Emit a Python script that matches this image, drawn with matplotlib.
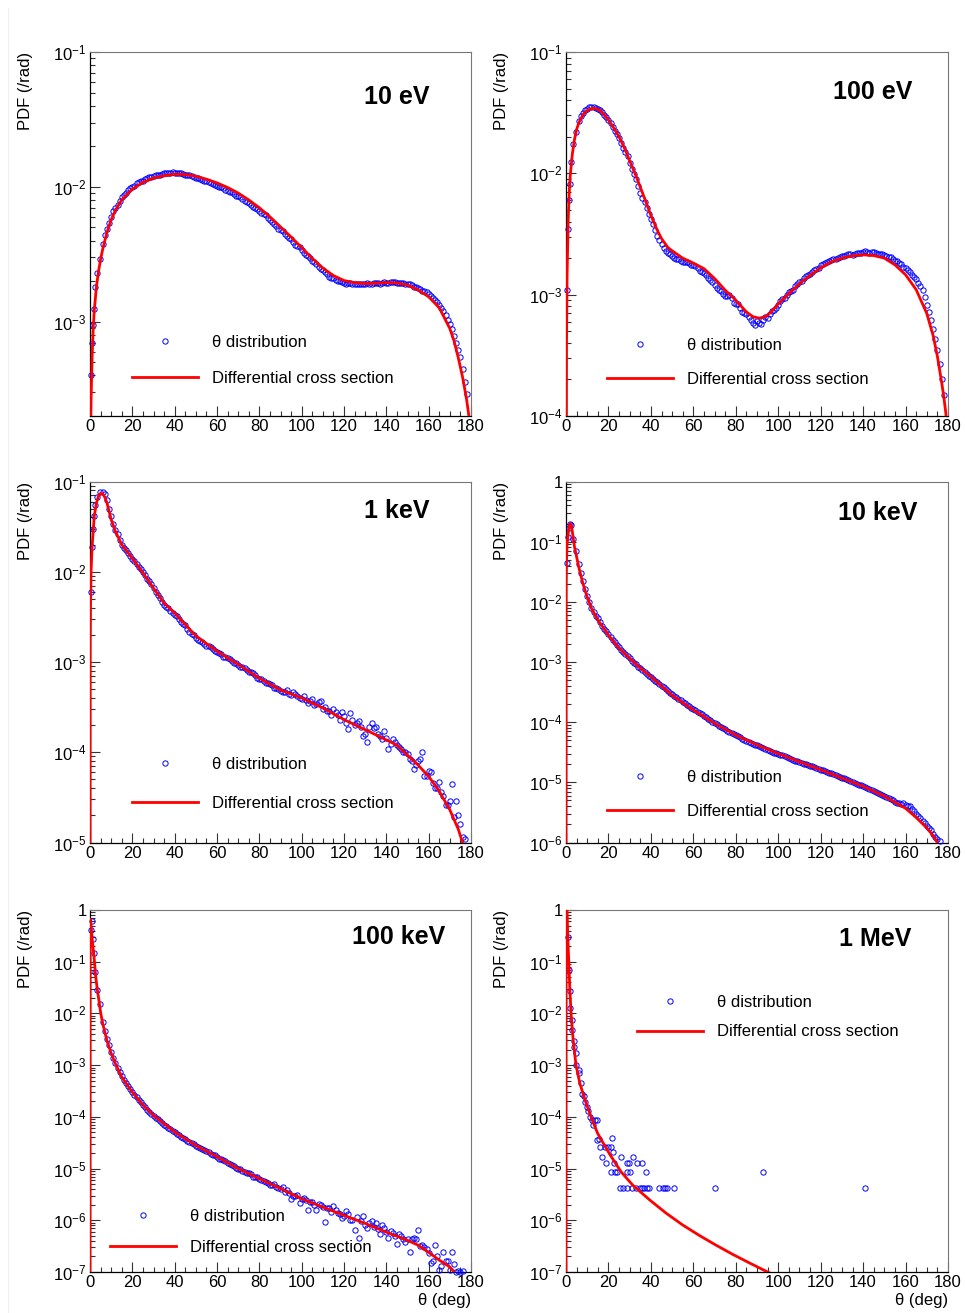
import matplotlib
matplotlib.use("Agg")
import matplotlib.pyplot as plt
import numpy as np
from matplotlib.lines import Line2D
from matplotlib.ticker import FixedLocator, FuncFormatter, MultipleLocator, NullFormatter

plt.rcParams["font.family"] = ["Liberation Sans", "DejaVu Sans"]
plt.rcParams["mathtext.fontset"] = "custom"
plt.rcParams["mathtext.rm"] = "Liberation Sans"
plt.rcParams["mathtext.it"] = "Liberation Sans:italic"
plt.rcParams["mathtext.bf"] = "Liberation Sans:bold"

# histogram bin centres (deg): a few fine bins near 0, then even and odd degrees
THETA_FINE = [0.25, 0.75, 1.25, 1.75, 2.5, 3.5, 4.5]
THETA_EVEN = np.arange(6, 179, 2)
THETA_ODD = np.arange(7, 178, 2)

# ---- 10 eV ----
PDF_10EV_FINE = [4.0e-4, 7.0e-4, 9.5e-4, 1.25e-3, 1.8e-3, 2.3e-3, 2.9e-3]
PDF_10EV = [
    3.75e-3, 4.9e-3, 6.0e-3, 7.0e-3, 7.9e-3, 8.7e-3, 9.4e-3, 1.0e-2, 1.06e-2, 1.1e-2,
    1.14e-2, 1.18e-2, 1.21e-2, 1.23e-2, 1.25e-2, 1.26e-2, 1.27e-2, 1.27e-2, 1.265e-2, 1.25e-2,
    1.23e-2, 1.2e-2, 1.17e-2, 1.14e-2, 1.11e-2, 1.08e-2, 1.05e-2, 1.02e-2, 9.9e-3, 9.55e-3,
    9.2e-3, 8.85e-3, 8.5e-3, 8.1e-3, 7.75e-3, 7.4e-3, 7.0e-3, 6.65e-3, 6.3e-3, 5.9e-3,
    5.5e-3, 5.15e-3, 4.8e-3, 4.5e-3, 4.2e-3, 3.9e-3, 3.65e-3, 3.4e-3, 3.15e-3, 2.95e-3,
    2.75e-3, 2.55e-3, 2.4e-3, 2.25e-3, 2.12e-3, 2.04e-3, 1.99e-3, 1.95e-3, 1.93e-3, 1.92e-3,
    1.91e-3, 1.91e-3, 1.91e-3, 1.92e-3, 1.93e-3, 1.93e-3, 1.94e-3, 1.95e-3, 1.96e-3, 1.96e-3,
    1.95e-3, 1.93e-3, 1.9e-3, 1.86e-3, 1.81e-3, 1.75e-3, 1.68e-3, 1.6e-3, 1.5e-3, 1.39e-3,
    1.26e-3, 1.12e-3, 9.6e-4, 7.9e-4, 6.2e-4, 4.5e-4, 2.9e-4,
]
PDF_10EV_ODD = [
    4.4e-3, 5.4e-3, 6.6e-3, 7.4e-3, 8.4e-3, 9.0e-3, 9.8e-3, 1.02e-2, 1.09e-2, 1.11e-2,
    1.17e-2, 1.19e-2, 1.23e-2, 1.23e-2, 1.265e-2, 1.26e-2, 1.28e-2, 1.26e-2, 1.27e-2, 1.23e-2,
    1.22e-2, 1.18e-2, 1.16e-2, 1.12e-2, 1.1e-2, 1.06e-2, 1.04e-2, 1.0e-2, 9.8e-3, 9.3e-3,
    9.1e-3, 8.6e-3, 8.4e-3, 7.85e-3, 7.65e-3, 7.15e-3, 6.9e-3, 6.4e-3, 6.15e-3, 5.65e-3,
    5.35e-3, 4.9e-3, 4.7e-3, 4.3e-3, 4.1e-3, 3.72e-3, 3.56e-3, 3.22e-3, 3.08e-3, 2.82e-3,
    2.68e-3, 2.45e-3, 2.34e-3, 2.16e-3, 2.1e-3, 1.99e-3, 1.98e-3, 1.92e-3, 1.94e-3, 1.9e-3,
    1.92e-3, 1.89e-3, 1.93e-3, 1.91e-3, 1.95e-3, 1.92e-3, 1.96e-3, 1.94e-3, 1.98e-3, 1.94e-3,
    1.95e-3, 1.9e-3, 1.89e-3, 1.82e-3, 1.79e-3, 1.7e-3, 1.65e-3, 1.54e-3, 1.46e-3, 1.32e-3,
    1.2e-3, 1.03e-3, 8.9e-4, 6.9e-4, 5.5e-4, 3.6e-4,
]
XS_THETA_10EV = [0, 0.25, 0.5, 1, 1.5, 2, 3, 4, 5, 6, 8, 10, 12, 15, 20, 25, 30, 35, 40, 45,
                 50, 55, 60, 65, 70, 75, 80, 85, 90, 95, 100, 105, 110, 115, 120, 125, 130,
                 135, 140, 145, 150, 155, 160, 165, 170, 172, 174, 176, 177, 178, 179, 180]
XS_10EV = [1e-6, 1.2e-4, 2.6e-4, 5.5e-4, 8.8e-4, 1.2e-3, 1.8e-3, 2.35e-3, 2.9e-3, 3.45e-3,
           4.6e-3, 5.7e-3, 6.7e-3, 8.0e-3, 9.6e-3, 1.08e-2, 1.16e-2, 1.21e-2, 1.24e-2, 1.235e-2,
           1.2e-2, 1.14e-2, 1.07e-2, 9.9e-3, 9.0e-3, 8.0e-3, 7.0e-3, 6.0e-3, 5.05e-3, 4.25e-3,
           3.55e-3, 2.95e-3, 2.5e-3, 2.2e-3, 2.02e-3, 1.95e-3, 1.92e-3, 1.93e-3, 1.95e-3, 1.94e-3,
           1.87e-3, 1.72e-3, 1.53e-3, 1.27e-3, 8.9e-4, 7.2e-4, 5.4e-4, 3.9e-4, 3.2e-4, 2.6e-4,
           2.0e-4, 1e-4]

# ---- 100 eV ----
PDF_100EV_FINE = [1.1e-3, 3.5e-3, 6.0e-3, 8.2e-3, 1.25e-2, 1.75e-2, 2.2e-2]
PDF_100EV = [
    2.7e-2, 3.15e-2, 3.4e-2, 3.5e-2, 3.48e-2, 3.3e-2, 3.05e-2, 2.75e-2, 2.4e-2, 2.1e-2,
    1.78e-2, 1.5e-2, 1.22e-2, 9.8e-3, 7.8e-3, 6.3e-3, 5.2e-3, 4.2e-3, 3.4e-3, 2.8e-3,
    2.42e-3, 2.22e-3, 2.08e-3, 1.98e-3, 1.9e-3, 1.86e-3, 1.82e-3, 1.74e-3, 1.65e-3, 1.55e-3,
    1.45e-3, 1.32e-3, 1.2e-3, 1.1e-3, 1.02e-3, 9.8e-4, 9.3e-4, 8.4e-4, 7.7e-4, 7.1e-4,
    6.6e-4, 5.8e-4, 6.1e-4, 5.7e-4, 6.5e-4, 6.9e-4, 7.5e-4, 8.2e-4, 9.2e-4, 1.0e-3,
    1.07e-3, 1.17e-3, 1.27e-3, 1.37e-3, 1.46e-3, 1.55e-3, 1.64e-3, 1.74e-3, 1.83e-3, 1.9e-3,
    1.95e-3, 2.0e-3, 2.07e-3, 2.12e-3, 2.15e-3, 2.18e-3, 2.2e-3, 2.24e-3, 2.25e-3, 2.23e-3,
    2.21e-3, 2.17e-3, 2.13e-3, 2.06e-3, 1.97e-3, 1.88e-3, 1.78e-3, 1.66e-3, 1.54e-3, 1.4e-3,
    1.25e-3, 1.1e-3, 8.2e-4, 6.2e-4, 4.3e-4, 2.7e-4, 1.5e-4,
]
PDF_100EV_ODD = [
    2.95e-2, 3.3e-2, 3.5e-2, 3.55e-2, 3.4e-2, 3.2e-2, 2.9e-2, 2.6e-2, 2.22e-2, 1.95e-2,
    1.62e-2, 1.38e-2, 1.08e-2, 8.9e-3, 6.9e-3, 5.8e-3, 4.6e-3, 3.8e-3, 3.05e-3, 2.62e-3,
    2.3e-3, 2.16e-3, 2.0e-3, 1.96e-3, 1.86e-3, 1.85e-3, 1.76e-3, 1.71e-3, 1.58e-3, 1.52e-3,
    1.38e-3, 1.27e-3, 1.13e-3, 1.07e-3, 9.7e-4, 9.9e-4, 8.6e-4, 8.3e-4, 7.2e-4, 6.9e-4,
    6.2e-4, 5.6e-4, 5.8e-4, 6.2e-4, 6.4e-4, 7.3e-4, 7.7e-4, 8.9e-4, 9.4e-4, 1.05e-3,
    1.1e-3, 1.23e-3, 1.3e-3, 1.43e-3, 1.49e-3, 1.61e-3, 1.67e-3, 1.8e-3, 1.85e-3, 1.94e-3,
    1.96e-3, 2.05e-3, 2.08e-3, 2.16e-3, 2.14e-3, 2.22e-3, 2.19e-3, 2.27e-3, 2.22e-3, 2.24e-3,
    2.18e-3, 2.16e-3, 2.08e-3, 2.03e-3, 1.91e-3, 1.84e-3, 1.7e-3, 1.61e-3, 1.46e-3, 1.34e-3,
    1.17e-3, 9.6e-4, 7.2e-4, 5.2e-4, 3.5e-4, 2.0e-4,
]
XS_THETA_100EV = [0, 0.25, 0.5, 1, 1.5, 2, 3, 4, 5, 6, 8, 10, 12, 14, 16, 18, 20, 22, 25, 28,
                  30, 33, 35, 38, 40, 43, 45, 48, 50, 55, 60, 65, 70, 75, 80, 85, 88, 91, 94,
                  97, 100, 105, 110, 115, 120, 125, 130, 135, 140, 145, 150, 155, 160, 165,
                  170, 173, 175, 177, 178, 179, 180]
XS_100EV = [1e-6, 4e-4, 1.4e-3, 4e-3, 6.8e-3, 9.6e-3, 1.45e-2, 1.9e-2, 2.3e-2, 2.6e-2,
            3.05e-2, 3.3e-2, 3.42e-2, 3.42e-2, 3.3e-2, 3.05e-2, 2.75e-2, 2.45e-2, 2.0e-2, 1.55e-2,
            1.27e-2, 9.5e-3, 7.7e-3, 5.6e-3, 4.5e-3, 3.4e-3, 2.9e-3, 2.45e-3, 2.3e-3, 2.0e-3,
            1.82e-3, 1.64e-3, 1.36e-3, 1.09e-3, 9.0e-4, 7.2e-4, 6.6e-4, 6.4e-4, 6.6e-4,
            7.3e-4, 8.4e-4, 1.02e-3, 1.23e-3, 1.44e-3, 1.66e-3, 1.86e-3, 2.0e-3, 2.09e-3, 2.13e-3,
            2.1e-3, 2.0e-3, 1.76e-3, 1.46e-3, 1.1e-3, 7.0e-4, 4.6e-4, 3.1e-4, 1.9e-4, 1.45e-4,
            1.05e-4, 5e-5]

# ---- 1 keV ----
PDF_1KEV_FINE = [6.0e-3, 1.9e-2, 3.0e-2, 4.1e-2, 5.5e-2, 6.8e-2, 7.6e-2]
PDF_1KEV = [
    7.7e-2, 6.3e-2, 4.1e-2, 2.9e-2, 2.25e-2, 1.85e-2, 1.6e-2, 1.4e-2, 1.22e-2, 1.07e-2,
    9.2e-3, 7.9e-3, 6.6e-3, 5.5e-3, 4.6e-3, 4.1e-3, 3.7e-3, 3.3e-3, 3.0e-3, 2.65e-3,
    2.35e-3, 2.05e-3, 1.85e-3, 1.72e-3, 1.6e-3, 1.5e-3, 1.38e-3, 1.3e-3, 1.22e-3, 1.13e-3,
    1.08e-3, 9.8e-4, 9.3e-4, 8.7e-4, 8.2e-4, 7.8e-4, 7.1e-4, 6.5e-4, 6.2e-4, 5.8e-4,
    5.5e-4, 5.1e-4, 4.8e-4, 4.7e-4, 4.4e-4, 4.6e-4, 4.2e-4, 3.9e-4, 3.8e-4, 3.7e-4,
    3.3e-4, 3.6e-4, 3.0e-4, 2.9e-4, 2.6e-4, 2.8e-4, 2.3e-4, 2.5e-4, 1.8e-4, 2.3e-4,
    2.1e-4, 1.9e-4, 1.6e-4, 1.9e-4, 1.85e-4, 1.6e-4, 1.4e-4, 1.45e-4, 1.25e-4, 1.3e-4,
    1.15e-4, 1.0e-4, 9.5e-5, 8.0e-5, 7.3e-5, 8.5e-5, 5.5e-5, 6.2e-5, 4.6e-5, 4.0e-5,
    3.6e-5, 2.6e-5, 2.9e-5, 1.9e-5, 2.0e-5, 1.15e-5, 8e-6,
]
PDF_1KEV_ODD = [  # 7 .. 99 deg
    7.2e-2, 5.0e-2, 3.4e-2, 2.6e-2, 2.0e-2, 1.75e-2, 1.48e-2, 1.33e-2, 1.13e-2, 1.0e-2,
    8.4e-3, 7.3e-3, 5.9e-3, 5.1e-3, 4.3e-3, 3.95e-3, 3.45e-3, 3.2e-3, 2.8e-3, 2.55e-3,
    2.15e-3, 1.98e-3, 1.76e-3, 1.68e-3, 1.52e-3, 1.47e-3, 1.32e-3, 1.27e-3, 1.15e-3, 1.12e-3,
    1.02e-3, 9.7e-4, 8.8e-4, 8.6e-4, 7.7e-4, 7.6e-4, 6.6e-4, 6.5e-4, 5.8e-4, 5.7e-4,
    5.1e-4, 5.0e-4, 4.6e-4, 4.9e-4, 4.3e-4, 4.4e-4, 4.0e-4,
]
PDF_1KEV_ODD_TAIL = [  # 101 .. 177 deg
    4.2e-4, 3.5e-4, 3.9e-4, 3.4e-4, 3.7e-4, 3.2e-4, 2.9e-4, 3.0e-4, 2.6e-4, 2.8e-4,
    2.1e-4, 2.7e-4, 2.0e-4, 2.2e-4, 1.5e-4, 1.3e-4, 2.1e-4, 1.9e-4, 1.5e-4, 1.7e-4,
    1.1e-4, 1.4e-4, 1.2e-4, 1.1e-4, 1.0e-4, 8.4e-5, 6.5e-5, 8.0e-5, 1.0e-4, 5.4e-5,
    6.0e-5, 4.0e-5, 4.7e-5, 3.3e-5, 2.6e-5, 4.4e-5, 2.9e-5, 1.6e-5, 1.1e-5,
]
XS_THETA_1KEV = [0, 0.1, 0.25, 0.5, 1, 2, 3, 4, 5, 6, 7, 8, 9, 10, 12, 15, 20, 25, 30, 35,
                 40, 45, 50, 55, 60, 65, 70, 80, 90, 100, 110, 120, 130, 140, 145, 150, 155,
                 160, 165, 170, 174, 176, 178]
XS_1KEV = [1e-8, 1.5e-3, 4e-3, 1.0e-2, 1.9e-2, 4.1e-2, 5.75e-2, 6.9e-2, 7.4e-2, 7.3e-2,
           6.7e-2, 5.8e-2, 4.7e-2, 3.8e-2, 2.8e-2, 2.0e-2, 1.41e-2, 9.7e-3, 6.6e-3, 4.5e-3,
           3.5e-3, 2.6e-3, 1.95e-3, 1.6e-3, 1.32e-3, 1.11e-3, 9.4e-4, 6.6e-4, 4.9e-4, 4.0e-4,
           3.1e-4, 2.3e-4, 1.78e-4, 1.37e-4, 1.2e-4, 9.3e-5, 7.2e-5, 5.4e-5, 3.7e-5, 2.3e-5,
           1.4e-5, 1.0e-5, 5e-6]

# ---- 10 keV ----
PDF_10KEV_FINE = [4.5e-2, 0.12, 0.17, 0.2, 0.19, 0.11, 7.0e-2]
PDF_10KEV = [
    4.3e-2, 2.2e-2, 1.25e-2, 8.0e-3, 5.9e-3, 4.6e-3, 3.6e-3, 2.9e-3, 2.35e-3, 1.95e-3,
    1.6e-3, 1.35e-3, 1.15e-3, 9.8e-4, 8.4e-4, 7.3e-4, 6.3e-4, 5.6e-4, 4.9e-4, 4.3e-4,
    3.8e-4, 3.3e-4, 2.9e-4, 2.6e-4, 2.3e-4, 2.05e-4, 1.85e-4, 1.65e-4, 1.5e-4, 1.35e-4,
    1.2e-4, 1.08e-4, 9.7e-5, 8.8e-5, 8.0e-5, 7.2e-5, 6.7e-5, 6.1e-5, 5.6e-5, 5.1e-5,
    4.7e-5, 4.4e-5, 4.1e-5, 3.8e-5, 3.6e-5, 3.3e-5, 3.1e-5, 2.95e-5, 2.8e-5, 2.6e-5,
    2.45e-5, 2.3e-5, 2.2e-5, 2.05e-5, 1.95e-5, 1.85e-5, 1.75e-5, 1.63e-5, 1.55e-5, 1.45e-5,
    1.37e-5, 1.28e-5, 1.2e-5, 1.12e-5, 1.05e-5, 9.8e-6, 9.2e-6, 8.7e-6, 8.1e-6, 7.5e-6,
    7.0e-6, 6.4e-6, 6.0e-6, 5.5e-6, 5.0e-6, 4.6e-6, 4.3e-6, 4.2e-6, 4.0e-6, 3.3e-6,
    2.8e-6, 2.3e-6, 1.9e-6, 1.6e-6, 1.25e-6, 1.05e-6, 9e-7,
]
PDF_10KEV_ODD = [
    3.0e-2, 1.65e-2, 1.0e-2, 6.8e-3, 5.3e-3, 4.0e-3, 3.25e-3, 2.6e-3, 2.12e-3, 1.78e-3,
    1.46e-3, 1.26e-3, 1.05e-3, 9.1e-4, 7.8e-4, 6.8e-4, 5.9e-4, 5.2e-4, 4.6e-4, 4.0e-4,
    3.55e-4, 3.1e-4, 2.75e-4, 2.45e-4, 2.15e-4, 1.95e-4, 1.74e-4, 1.58e-4, 1.42e-4, 1.27e-4,
    1.14e-4, 1.02e-4, 9.2e-5, 8.4e-5, 7.6e-5, 6.9e-5, 6.4e-5, 5.8e-5, 5.35e-5, 4.9e-5,
    4.55e-5, 4.25e-5, 3.95e-5, 3.7e-5, 3.45e-5, 3.2e-5, 3.05e-5, 2.85e-5, 2.7e-5, 2.52e-5,
    2.38e-5, 2.25e-5, 2.12e-5, 2.0e-5, 1.9e-5, 1.8e-5, 1.69e-5, 1.59e-5, 1.5e-5, 1.41e-5,
    1.32e-5, 1.24e-5, 1.16e-5, 1.08e-5, 1.02e-5, 9.5e-6, 9.0e-6, 8.4e-6, 7.8e-6, 7.2e-6,
    6.7e-6, 6.2e-6, 5.7e-6, 5.3e-6, 4.8e-6, 4.5e-6, 4.6e-6, 4.1e-6, 3.6e-6, 3.0e-6,
    2.55e-6, 2.1e-6, 1.75e-6, 1.4e-6, 1.15e-6, 9.5e-7,
]
XS_THETA_10KEV = [0, 0.1, 0.25, 0.5, 1, 1.5, 2, 2.5, 3, 4, 5, 6, 8, 10, 12, 15, 20, 25, 30,
                  35, 40, 50, 60, 70, 80, 90, 100, 110, 120, 130, 140, 150, 160, 165, 170,
                  173, 175, 177]
XS_10KEV = [1e-8, 2e-2, 5e-2, 9e-2, 0.135, 0.18, 0.2, 0.19, 0.145, 8.2e-2, 5.6e-2, 3.8e-2,
            2.0e-2, 1.2e-2, 7.8e-3, 5.0e-3, 2.8e-3, 1.7e-3, 1.15e-3, 7.9e-4, 5.7e-4, 2.8e-4,
            1.6e-4, 9.6e-5, 6.1e-5, 4.2e-5, 3.0e-5, 2.2e-5, 1.62e-5, 1.18e-5, 8.6e-6, 5.9e-6,
            3.7e-6, 2.6e-6, 1.75e-6, 1.3e-6, 1.0e-6, 6e-7]

# ---- 100 keV ----
PDF_100KEV_FINE = [0.41, 0.6, 0.27, 0.15, 6.2e-2, 2.8e-2, 1.5e-2]
PDF_100KEV = [
    6.8e-3, 3.2e-3, 1.8e-3, 1.1e-3, 7.5e-4, 5.2e-4, 3.9e-4, 3.0e-4, 2.4e-4, 1.9e-4,
    1.55e-4, 1.25e-4, 1.05e-4, 9.0e-5, 7.6e-5, 6.6e-5, 5.7e-5, 5.0e-5, 4.4e-5, 3.9e-5,
    3.4e-5, 3.1e-5, 2.75e-5, 2.5e-5, 2.3e-5, 2.1e-5, 1.85e-5, 1.7e-5, 1.5e-5, 1.4e-5,
    1.2e-5, 1.1e-5, 1.0e-5, 9.0e-6, 8.3e-6, 7.8e-6, 6.8e-6, 6.4e-6, 5.8e-6, 5.2e-6,
    4.8e-6, 4.5e-6, 4.0e-6, 3.6e-6, 3.3e-6, 3.0e-6, 3.1e-6, 2.6e-6, 2.5e-6, 2.3e-6,
    2.0e-6, 2.1e-6, 1.8e-6, 1.7e-6, 1.45e-6, 1.6e-6, 1.3e-6, 1.2e-6, 1.3e-6, 1.0e-6,
    1.15e-6, 9.5e-7, 8.0e-7, 9.0e-7, 7.5e-7, 6.8e-7, 8.0e-7, 6.0e-7, 6.3e-7, 5.0e-7,
    5.5e-7, 4.4e-7, 4.3e-7, 4.3e-7, 4.4e-7, 3.2e-7, 3.0e-7, 2.3e-7, 1.6e-7, 2.0e-7,
    1.3e-7, 1.6e-7, 1.1e-7, 1.4e-7, 1.05e-7, 1.05e-7, 8e-8,
]
PDF_100KEV_ODD = [  # 7 .. 89 deg
    4.5e-3, 2.4e-3, 1.4e-3, 9.0e-4, 6.2e-4, 4.5e-4, 3.4e-4, 2.7e-4, 2.1e-4, 1.72e-4,
    1.38e-4, 1.15e-4, 9.6e-5, 8.3e-5, 7.0e-5, 6.2e-5, 5.3e-5, 4.7e-5, 4.1e-5, 3.7e-5,
    3.2e-5, 2.95e-5, 2.6e-5, 2.4e-5, 2.2e-5, 1.95e-5, 1.8e-5, 1.55e-5, 1.48e-5, 1.28e-5,
    1.18e-5, 1.02e-5, 9.6e-6, 8.5e-6, 8.2e-6, 7.0e-6, 6.8e-6, 5.9e-6, 5.6e-6, 4.9e-6,
    5.1e-6, 4.2e-6,
]
PDF_100KEV_ODD_TAIL = [  # 91 .. 175 deg
    4.5e-6, 3.9e-6, 2.6e-6, 2.9e-6, 2.2e-6, 2.7e-6, 1.6e-6, 2.3e-6, 1.6e-6, 2.0e-6,
    9.3e-7, 1.7e-6, 1.9e-6, 1.4e-6, 1.1e-6, 1.5e-6, 1.0e-6, 6.5e-7, 4.6e-7, 1.2e-6,
    7.0e-7, 9.5e-7, 8.7e-7, 5.5e-7, 7.0e-7, 4.5e-7, 5.8e-7, 3.5e-7, 5.0e-7, 3.8e-7,
    2.4e-7, 4.5e-7, 6.5e-7, 3.3e-7, 2.8e-7, 1.5e-7, 3.3e-7, 1.1e-7, 2.4e-7, 1.6e-7,
    2.4e-7, 1.0e-7, 1.0e-7,
]
XS_THETA_100KEV = [0, 0.1, 0.3, 0.6, 1.1, 1.9, 2.7, 3.5, 4.3, 5, 6, 8, 10, 12, 15, 20, 25,
                   30, 40, 50, 60, 70, 80, 90, 100, 110, 120, 130, 140, 150, 155, 160, 165,
                   170, 172, 174]
XS_100KEV = [1e-9, 0.3, 0.66, 0.45, 0.26, 0.126, 5.1e-2, 2.8e-2, 1.7e-2, 1.05e-2, 6.4e-3,
             3.0e-3, 1.7e-3, 1.07e-3, 5.9e-4, 3.0e-4, 1.7e-4, 1.07e-4, 5.1e-5, 2.8e-5, 1.7e-5,
             1.0e-5, 6.4e-6, 4.1e-6, 2.6e-6, 1.8e-6, 1.25e-6, 8.7e-7, 5.9e-7, 4.1e-7, 3.3e-7,
             2.4e-7, 1.7e-7, 1.25e-7, 1.0e-7, 7e-8]

# ---- 1 MeV (sparse: individual filled bins) ----
THETA_1MEV = [1.1, 1.3, 1.9, 1.9, 2.8, 2.8, 3.9, 3.9, 4.9, 4.9, 6.0, 6.0, 6.9, 7.5, 8.5,
              9.0, 9.7, 10.5, 11.3, 12.1, 12.9, 13.7, 14.8, 14.5, 15.7, 16.0, 17.1, 18.9,
              18.4, 20.0, 21.0, 21.8, 22.0, 21.0, 22.6, 23.1, 23.9, 26.0, 25.5, 27.0, 28.6,
              28.6, 29.7, 30.0, 28.9, 31.0, 31.8, 32.9, 33.6, 34.9, 36.0, 36.0, 36.9, 37.9,
              38.0, 39.1, 43.9, 45.6, 46.7, 47.8, 50.9, 70.0, 92.7, 141.0]
PDF_1MEV = [0.30, 6.9e-2, 2.7e-2, 1.3e-2, 7.6e-3, 4.8e-3, 2.9e-3, 2.2e-3, 1.7e-3, 1.0e-3,
            8e-4, 6.9e-4, 4.6e-4, 2.8e-4, 2.5e-4, 1.95e-4, 1.56e-4, 1.3e-4, 1.0e-4, 8.7e-5,
            6.9e-5, 8.7e-5, 8.7e-5, 3.5e-5, 3.8e-5, 2.6e-5, 1.7e-5, 1.3e-5, 2.6e-5, 2.6e-5,
            2.6e-5, 3.9e-5, 2.1e-5, 8.7e-6, 1.3e-5, 8.7e-6, 8.7e-6, 1.7e-5, 4.3e-6, 4.3e-6,
            8.7e-6, 1.3e-5, 1.3e-5, 8.7e-6, 4.3e-6, 4.3e-6, 1.7e-5, 4.3e-6, 1.3e-5, 4.3e-6,
            1.3e-5, 4.3e-6, 4.3e-6, 8.7e-6, 4.3e-6, 4.3e-6, 4.3e-6, 4.3e-6, 4.3e-6, 4.3e-6,
            4.3e-6, 4.3e-6, 8.7e-6, 4.3e-6]
XS_THETA_1MEV = [0, 0.05, 0.5, 0.8, 1.3, 1.8, 2.4, 3.3, 4.7, 6.5, 9.0, 12, 14.9, 20.4, 25.9,
                 31.4, 39.3, 47.1, 55, 62.8, 70.7, 78.5, 86.4, 95, 100]
XS_1MEV = [1e-9, 3.0, 1.0, 0.35, 0.1, 3e-2, 1e-2, 3.3e-3, 1e-3, 4.5e-4, 2.1e-4, 9.5e-5,
           4.8e-5, 1.95e-5, 8.7e-6, 4.8e-6, 2.5e-6, 1.38e-6, 8.1e-7, 5.1e-7, 3.3e-7, 2.2e-7,
           1.5e-7, 1e-7, 8e-8]

ENERGY_LABELS = ["10 eV", "100 eV", "1 keV", "10 keV", "100 keV", "1 MeV"]
Y_LIMITS = [(2e-4, 1e-1), (1e-4, 1e-1), (1e-5, 1e-1), (1e-6, 1), (1e-7, 1), (1e-7, 1)]

fine = list(THETA_FINE)
scatter_sets = [
    (fine + list(THETA_EVEN) + list(THETA_ODD), PDF_10EV_FINE + PDF_10EV + PDF_10EV_ODD),
    (fine + list(THETA_EVEN) + list(THETA_ODD), PDF_100EV_FINE + PDF_100EV + PDF_100EV_ODD),
    (fine + list(THETA_EVEN) + list(np.arange(7, 100, 2)) + list(np.arange(101, 178, 2)),
     PDF_1KEV_FINE + PDF_1KEV + PDF_1KEV_ODD + PDF_1KEV_ODD_TAIL),
    (fine + list(THETA_EVEN) + list(THETA_ODD), PDF_10KEV_FINE + PDF_10KEV + PDF_10KEV_ODD),
    (fine + list(THETA_EVEN) + list(np.arange(7, 90, 2)) + list(np.arange(91, 176, 2)),
     PDF_100KEV_FINE + PDF_100KEV + PDF_100KEV_ODD + PDF_100KEV_ODD_TAIL),
    (THETA_1MEV, PDF_1MEV),
]
curve_sets = [
    (XS_THETA_10EV, XS_10EV),
    (XS_THETA_100EV, XS_100EV),
    (XS_THETA_1KEV, XS_1KEV),
    (XS_THETA_10KEV, XS_10KEV),
    (XS_THETA_100KEV, XS_100KEV),
    (XS_THETA_1MEV, XS_1MEV),
]

# layout (pixels of a 965x1313 canvas)
W, H = 965, 1313
COL_X = [(90, 471), (566, 948)]
ROW_Y = [(52, 416), (481.5, 842.5), (910, 1272)]
# energy label: right edge, baseline (axes fraction)
LABEL_POS = [(0.892, 0.857), (0.908, 0.871), (0.890, 0.899),
             (0.921, 0.892), (0.932, 0.906), (0.903, 0.901)]
# legend: upper-left anchor (axes fraction), row spacing
LEGEND_POS = [(0.110, 0.222, 1.22), (0.107, 0.2145, 1.12), (0.110, 0.237, 1.44),
              (0.107, 0.202, 1.16), (0.0525, 0.174, 0.96), (0.186, 0.766, 0.88)]


def decade_label(value, pos):
    exponent = int(round(np.log10(value)))
    if exponent == 0:
        return "1"
    return rf"$10^{{{exponent}}}$"


fig = plt.figure(figsize=(W / 100, H / 100), dpi=100)
fig.add_artist(Line2D([7.5 / W, 7.5 / W], [0, 1 - 8 / H], color="#eeeeee", lw=0.8))

for i in range(6):
    row, col = divmod(i, 2)
    left, right = COL_X[col]
    top, bottom = ROW_Y[row]
    ax = fig.add_axes([left / W, 1 - bottom / H, (right - left) / W, (bottom - top) / H])

    ylo, yhi = Y_LIMITS[i]
    theta, pdf = (np.asarray(a, dtype=float) for a in scatter_sets[i])
    keep = (pdf >= ylo) & (pdf <= yhi)
    ax.plot(theta[keep], pdf[keep], linestyle="none", marker="o", ms=3.8,
            mfc="none", mec="#0000ff", mew=0.7, clip_on=False, zorder=3,
            label="\u03b8 distribution")
    ax.plot(curve_sets[i][0], curve_sets[i][1], color="#ff0000", lw=2.0, zorder=4,
            label="Differential cross section")

    ax.set_yscale("log")
    ax.set_xlim(0, 180)
    ax.set_ylim(ylo, yhi)
    decades = np.arange(np.floor(np.log10(ylo)), np.ceil(np.log10(yhi)) + 1)
    majors = [10.0 ** d for d in decades if ylo * 0.999 <= 10.0 ** d <= yhi * 1.001]
    minors = [m * 10.0 ** d for d in decades for m in range(2, 10)
              if ylo * 0.999 <= m * 10.0 ** d <= yhi * 1.001]
    ax.xaxis.set_major_locator(MultipleLocator(20))
    ax.xaxis.set_minor_locator(MultipleLocator(5))
    ax.yaxis.set_major_locator(FixedLocator(majors))
    ax.yaxis.set_minor_locator(FixedLocator(minors))
    ax.yaxis.set_major_formatter(FuncFormatter(decade_label))
    ax.yaxis.set_minor_formatter(NullFormatter())
    ax.tick_params(which="both", direction="in", top=False, right=False,
                   labelsize=12, color="#333333", width=0.8, pad=2.5)
    ax.tick_params(which="major", length=7)
    ax.tick_params(which="minor", length=3.6)
    for side in ("left", "bottom"):
        ax.spines[side].set_color("black")
        ax.spines[side].set_linewidth(0.9)
    for side in ("top", "right"):
        ax.spines[side].set_color("#777777")
        ax.spines[side].set_linewidth(0.8)

    ax.set_ylabel("PDF (/rad)", loc="top", fontsize=12)
    ax.yaxis.set_label_coords(-0.149, 1.0)
    if row == 2:
        ax.set_xlabel("\u03b8 (deg)", loc="right", fontsize=12)
        ax.xaxis.set_label_coords(1.0, -0.058)

    lx, ly = LABEL_POS[i]
    ax.text(lx, ly, ENERGY_LABELS[i], transform=ax.transAxes, ha="right",
            va="baseline", fontsize=18, fontweight="bold")

    gx, gy, spacing = LEGEND_POS[i]
    ax.legend(loc="upper left", bbox_to_anchor=(gx, gy), frameon=False, fontsize=12,
              borderpad=0, borderaxespad=0, handlelength=3.95, handletextpad=0.84,
              labelspacing=spacing, numpoints=1)

fig.savefig("out.png", dpi=100)
